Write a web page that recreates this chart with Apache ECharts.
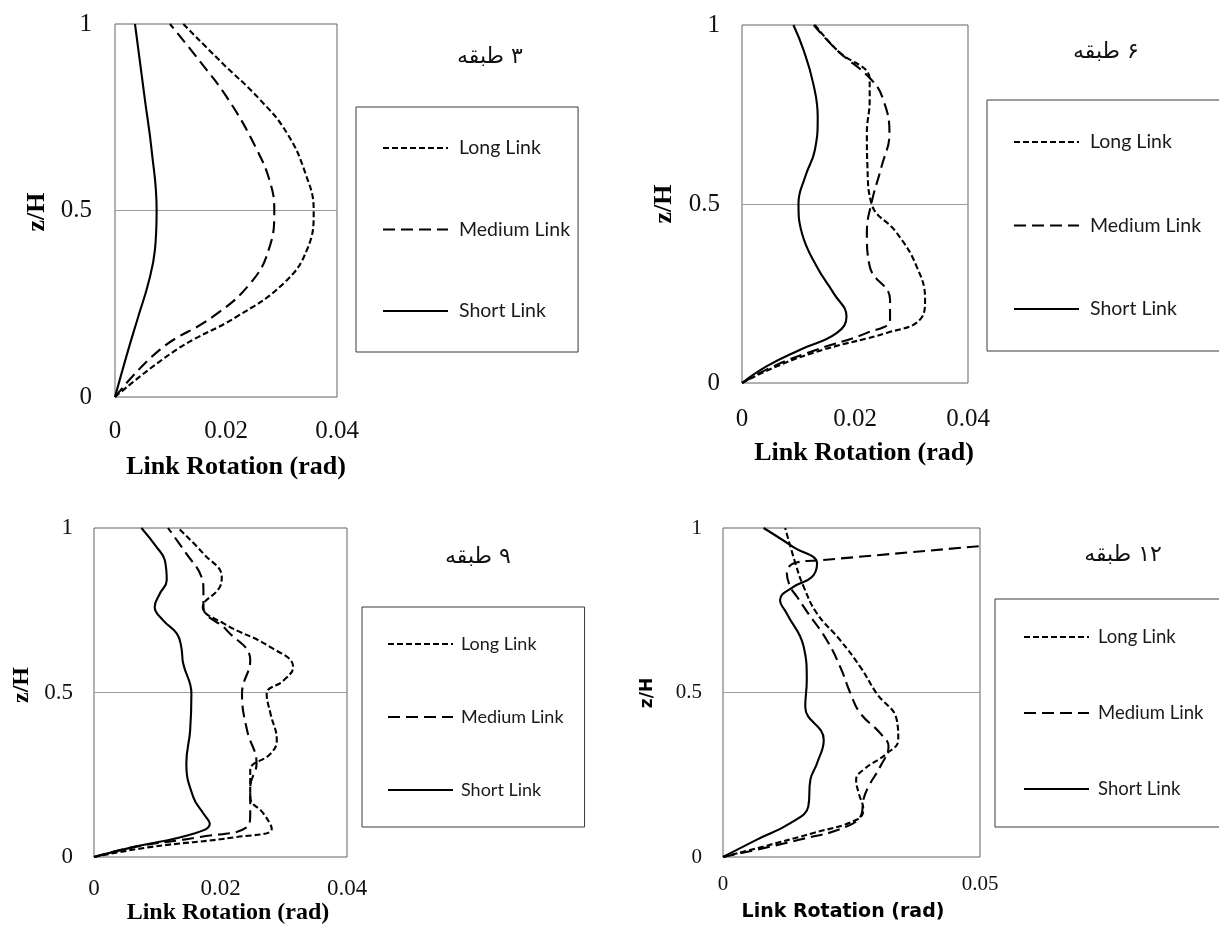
<!DOCTYPE html>
<html>
<head>
<meta charset="utf-8">
<script src="https://cdn.jsdelivr.net/npm/echarts@6/dist/echarts.min.js"></script>
<style>
html,body{margin:0;padding:0;background:#fff;}
#chart{width:1219px;height:926px;}
</style>
</head>
<body>
<div id="chart"></div>
<script>
// ---------- DATA (x = link rotation in rad, y = z/H) ----------
const seriesNames = ['Long Link', 'Medium Link', 'Short Link'];
const panelTitles = ['۳ طبقه', '۶ طبقه', '۹ طبقه', '۱۲ طبقه'];
const xAxisTitle = 'Link Rotation (rad)';
const yAxisTitle = 'z/H';
const xMaxes = [0.04, 0.04, 0.04, 0.05];
const xSteps = [0.02, 0.02, 0.02, 0.05];
const yMax = 1;
const yStep = 0.5;

// 3-storey
const s3Long = [[0,0],[0.0111,0.127],[0.022,0.216],[0.0304,0.305],[0.0346,0.395],[0.0358,0.5],[0.0343,0.6],[0.031,0.707],[0.0262,0.796],[0.019,0.9],[0.0123,1]];
const s3Medium = [[0,0],[0.0081,0.127],[0.0177,0.216],[0.0244,0.305],[0.0277,0.395],[0.0287,0.5],[0.028,0.573],[0.0256,0.662],[0.0205,0.796],[0.0153,0.9],[0.0099,1]];
const s3Short = [[0,0],[0.0024,0.127],[0.0042,0.216],[0.006,0.305],[0.0072,0.395],[0.0075,0.5],[0.0066,0.662],[0.0054,0.796],[0.0036,1]];

// 6-storey
const s6Long = [[0,0],[0.0062,0.047],[0.0144,0.093],[0.0256,0.14],[0.0315,0.177],[0.0324,0.233],[0.0309,0.326],[0.0274,0.419],[0.0229,0.502],[0.0222,0.605],[0.0221,0.698],[0.0226,0.791],[0.0226,0.847],[0.0168,0.93],[0.0129,1]];
const s6Medium = [[0,0],[0.0056,0.047],[0.0132,0.093],[0.0221,0.14],[0.0262,0.177],[0.0262,0.233],[0.0226,0.326],[0.0221,0.419],[0.0229,0.502],[0.0247,0.605],[0.0261,0.698],[0.025,0.791],[0.0229,0.847],[0.0168,0.93],[0.0127,1]];
const s6Short = [[0,0],[0.0044,0.047],[0.0103,0.093],[0.0168,0.14],[0.0185,0.186],[0.0162,0.251],[0.0132,0.326],[0.0106,0.419],[0.01,0.502],[0.0112,0.577],[0.0129,0.651],[0.0134,0.744],[0.0126,0.837],[0.0109,0.93],[0.0091,1]];

// 9-storey
const s9Long = [[0,0],[0.0088,0.03],[0.0226,0.061],[0.0281,0.086],[0.0268,0.132],[0.0247,0.182],[0.0247,0.263],[0.0279,0.314],[0.0289,0.355],[0.0279,0.436],[0.0273,0.496],[0.03,0.537],[0.0315,0.577],[0.0279,0.638],[0.0205,0.71],[0.0172,0.76],[0.0199,0.821],[0.0202,0.851],[0.0173,0.922],[0.0133,1]];
const s9Medium = [[0,0],[0.0062,0.03],[0.0168,0.061],[0.0242,0.091],[0.0247,0.132],[0.0247,0.213],[0.0257,0.284],[0.0242,0.385],[0.0234,0.496],[0.0247,0.598],[0.021,0.689],[0.0173,0.76],[0.0173,0.81],[0.017,0.851],[0.0146,0.922],[0.0117,1]];
const s9Short = [[0,0],[0.0062,0.03],[0.0157,0.071],[0.0183,0.101],[0.0173,0.132],[0.0157,0.182],[0.0146,0.284],[0.0152,0.385],[0.0154,0.496],[0.0141,0.588],[0.0138,0.638],[0.0131,0.679],[0.0109,0.72],[0.0096,0.76],[0.0104,0.8],[0.0115,0.841],[0.0112,0.902],[0.0099,0.942],[0.0075,1]];

// 12-storey
const s12Long = [[0,0],[0.0079,0.032],[0.0176,0.073],[0.026,0.113],[0.0273,0.144],[0.0264,0.194],[0.0259,0.235],[0.0273,0.265],[0.0319,0.315],[0.0341,0.356],[0.0338,0.417],[0.0299,0.497],[0.0267,0.578],[0.0228,0.659],[0.0183,0.74],[0.0157,0.821],[0.0141,0.892],[0.0121,1]];
const s12Medium = [[0,0],[0.015,0.053],[0.0241,0.093],[0.027,0.133],[0.0273,0.174],[0.0283,0.214],[0.0306,0.275],[0.0322,0.336],[0.0306,0.376],[0.0267,0.437],[0.0248,0.497],[0.0228,0.578],[0.0202,0.659],[0.0166,0.74],[0.0144,0.791],[0.0131,0.821],[0.0124,0.865],[0.0143,0.895],[0.019,0.902],[0.05,0.945]];
const s12Short = [[0,0],[0.0066,0.053],[0.0131,0.103],[0.0166,0.154],[0.017,0.235],[0.0183,0.285],[0.0196,0.356],[0.016,0.457],[0.0163,0.538],[0.0157,0.639],[0.0124,0.74],[0.0111,0.781],[0.0137,0.821],[0.0173,0.851],[0.0183,0.892],[0.0137,0.942],[0.0079,1]];

const panelData = [
  [s3Long, s3Medium, s3Short],
  [s6Long, s6Medium, s6Short],
  [s9Long, s9Medium, s9Short],
  [s12Long, s12Medium, s12Short]
];

// ---------- LAYOUT / STYLE ----------
const SERIF = '"Liberation Serif", "Times New Roman", serif';
const SANS = '"DejaVu Sans", Verdana, sans-serif';
const LEG = 'Lato, Calibri, sans-serif';
const ARABIC = '"DejaVu Sans", sans-serif';

const layout = [
  { grid:{left:115,top:24,width:222,height:373}, tick:25, xMargin:22, yMargin:23,
    xt:{x:236,y:467,font:'bold 26px '+SERIF}, yt:{x:37,y:212,font:'bold 26px '+SERIF},
    title:{x:490,y:57},
    legend:{left:356,top:107,padding:[31,8,31,26],gap:61.5,fs:19.5,tp:6} },
  { grid:{left:742,top:25,width:226,height:358}, tick:25, xMargin:24, yMargin:22,
    xt:{x:864,y:453,font:'bold 26px '+SERIF}, yt:{x:664,y:204,font:'bold 26px '+SERIF},
    title:{x:1106,y:52},
    legend:{left:987,top:100,padding:[32,60,32,26],gap:63.5,fs:19.5,tp:6} },
  { grid:{left:94,top:528,width:253,height:329}, tick:23, xMargin:20, yMargin:21,
    xt:{x:228,y:913,font:'bold 24px '+SERIF}, yt:{x:22,y:685,font:'bold 24px '+SERIF},
    title:{x:478,y:557},
    legend:{left:362,top:607,padding:[27,21,27,25],gap:53,fs:18,tp:3} },
  { grid:{left:723,top:528,width:257,height:329}, tick:21, xMargin:17, yMargin:21,
    xt:{x:843,y:912,font:'bold 19px '+SANS}, yt:{x:648,y:693,font:'bold 17px '+SANS},
    title:{x:1123,y:555},
    legend:{left:995,top:599,padding:[28,60,28,28],gap:56,fs:18.5,tp:4} }
];

const lineTypes = [[6,3],[12,6],'solid'];

const grids = [], xAxes = [], yAxes = [], series = [], legends = [], graphics = [];

layout.forEach((L, i) => {
  grids.push(Object.assign({ show:true, borderColor:'#626262', borderWidth:1, backgroundColor:'transparent',
    containLabel:false, outerBoundsMode:'none' }, L.grid));
  xAxes.push({
    type:'value', gridIndex:i, min:0, max:xMaxes[i], interval:xSteps[i],
    axisLine:{show:false}, axisTick:{show:false}, splitLine:{show:false},
    axisLabel:{margin:L.xMargin, fontSize:L.tick, fontFamily:SERIF, color:'#111'}
  });
  yAxes.push({
    type:'value', gridIndex:i, min:0, max:yMax, interval:yStep,
    axisLine:{show:false}, axisTick:{show:false},
    splitLine:{show:true, showMinLine:false, showMaxLine:false, lineStyle:{color:'#9c9c9c', width:1}},
    axisLabel:{margin:L.yMargin, fontSize:L.tick, fontFamily:SERIF, color:'#111'}
  });
  panelData[i].forEach((d, k) => {
    series.push({
      name: seriesNames[k], type:'line', xAxisIndex:i, yAxisIndex:i,
      data: d, smooth:0.45, symbol:'none', showSymbol:false, clip:true,
      lineStyle:{color:'#000', width:2.1, type:lineTypes[k]},
      itemStyle:{color:'#000'},
      silent:true, animation:false
    });
  });
  const lg = L.legend;
  legends.push({
    orient:'vertical', left:lg.left, top:lg.top, padding:lg.padding, itemGap:lg.gap,
    itemWidth:65, itemHeight:20, borderColor:'#3a3a3a', borderWidth:1, backgroundColor:'#fff',
    selectedMode:false, data: seriesNames.slice(),
    itemStyle:{opacity:0},
    textStyle:{fontFamily:LEG, fontSize:lg.fs, lineHeight:20, color:'#1a1a1a', padding:[0,0,0,lg.tp]}
  });
  graphics.push({ type:'text', x:L.xt.x, y:L.xt.y,
    style:{ text:xAxisTitle, font:L.xt.font, fill:'#000', align:'center', verticalAlign:'middle', textAlign:'center', textVerticalAlign:'middle' } });
  graphics.push({ type:'text', x:L.yt.x, y:L.yt.y, rotation:Math.PI/2,
    style:{ text:yAxisTitle, font:L.yt.font, fill:'#000', align:'center', verticalAlign:'middle', textAlign:'center', textVerticalAlign:'middle' } });
  graphics.push({ type:'text', x:L.title.x, y:L.title.y,
    style:{ text:'\u202B' + panelTitles[i] + '\u202C', font:'22px ' + ARABIC, fill:'#111', align:'center', verticalAlign:'middle', textAlign:'center', textVerticalAlign:'middle' } });
});

const chart = echarts.init(document.getElementById('chart'), null, {renderer:'canvas'});
chart.setOption({
  animation:false,
  backgroundColor:'#fff',
  grid: grids, xAxis: xAxes, yAxis: yAxes, series: series, legend: legends,
  graphic: { elements: graphics }
});
</script>
</body>
</html>
